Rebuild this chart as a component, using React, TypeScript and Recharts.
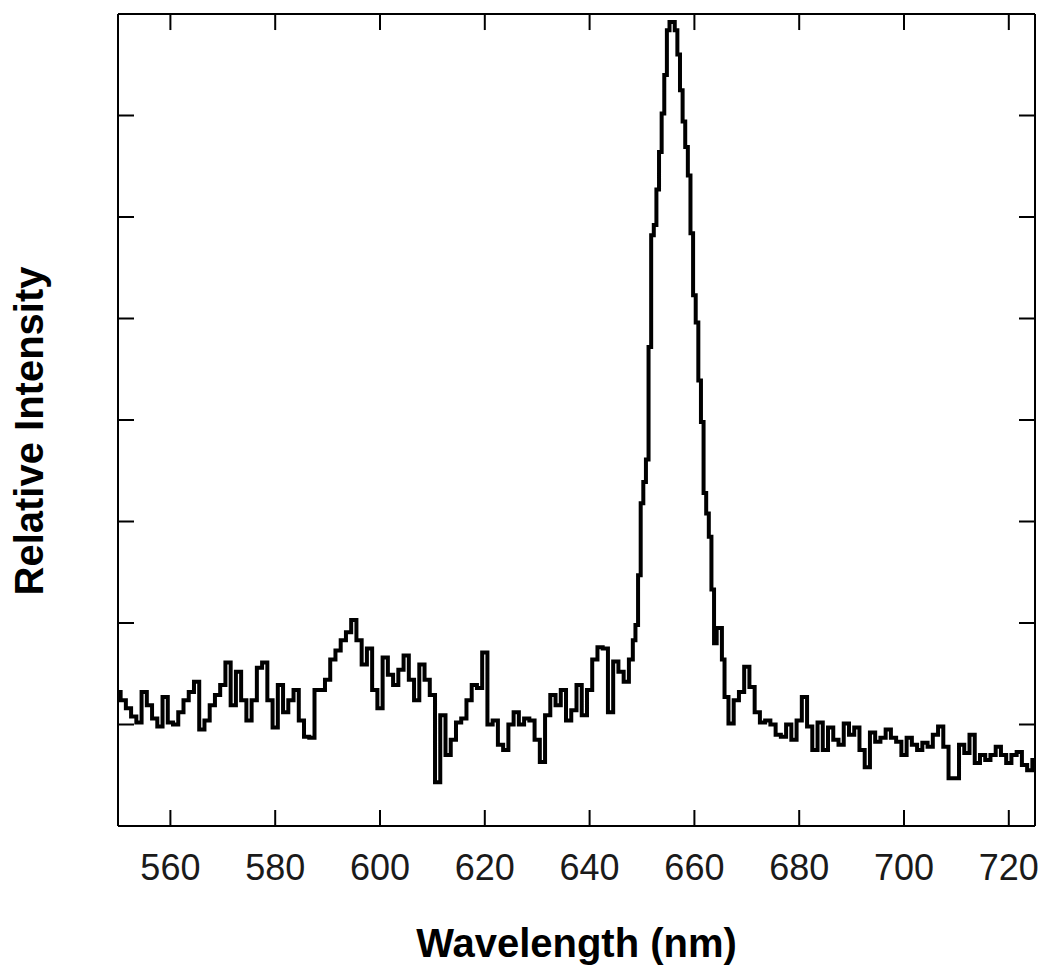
import { LineChart, Line, XAxis, YAxis, Label, ReferenceLine } from 'recharts';

// spectrum, nm (1 nm sampling in the wings, 0.5 nm across the line)
const wavelength = [
  550, 551, 552, 553, 554, 555, 556, 557, 558, 559,
  560, 561, 562, 563, 564, 565, 566, 567, 568, 569,
  570, 571, 572, 573, 574, 575, 576, 577, 578, 579,
  580, 581, 582, 583, 584, 585, 586, 587, 588, 589,
  590, 591, 592, 593, 594, 595, 596, 597, 598, 599,
  600, 601, 602, 603, 604, 605, 606, 607, 608, 609,
  610, 611, 612, 613, 614, 615, 616, 617, 618, 619,
  620, 621, 622, 623, 624, 625, 626, 627, 628, 629,
  630, 631, 632, 633, 634, 635, 636, 637, 638, 639,
  640, 641, 642, 643, 644, 645, 646, 647,
  648, 648.5, 649, 649.5, 650, 650.5, 651, 651.5, 652, 652.5,
  653, 653.5, 654, 654.5, 655, 655.5, 656, 656.5, 657, 657.5,
  658, 658.5, 659, 659.5, 660, 660.5, 661, 661.5, 662, 662.5,
  663, 663.5, 664, 664.5, 665, 665.5, 666,
  667, 668, 669, 670, 671, 672, 673, 674, 675, 676,
  677, 678, 679, 680, 681, 682, 683, 684, 685, 686,
  687, 688, 689, 690, 691, 692, 693, 694, 695, 696,
  697, 698, 699, 700, 701, 702, 703, 704, 705, 706,
  707, 708, 709, 710, 711, 712, 713, 714, 715, 716,
  717, 718, 719, 720, 721, 722, 723, 724, 725,
];

const intensity = [
  1.32, 1.24, 1.16, 1.08, 1.02, 1.32, 1.19, 1.06, 0.98, 1.27,
  1.02, 1.0, 1.12, 1.24, 1.32, 1.42, 0.95, 1.04, 1.19, 1.29,
  1.39, 1.61, 1.19, 1.52, 1.24, 1.04, 1.24, 1.56, 1.61, 1.24,
  0.97, 1.39, 1.12, 1.24, 1.34, 1.04, 0.88, 0.87, 1.34, 1.34,
  1.44, 1.64, 1.73, 1.83, 1.91, 2.03, 1.83, 1.59, 1.75, 1.34,
  1.16, 1.66, 1.49, 1.39, 1.54, 1.68, 1.44, 1.24, 1.59, 1.44,
  1.29, 0.43, 1.09, 0.7, 0.85, 1.02, 1.06, 1.24, 1.39, 1.36,
  1.71, 1.0, 1.04, 0.8, 0.75, 1.0, 1.12, 1.0, 1.06, 1.04,
  0.85, 0.63, 1.09, 1.29, 1.19, 1.34, 1.04, 1.14, 1.39, 1.09,
  1.34, 1.64, 1.76, 1.75, 1.12, 1.62, 1.52, 1.42,
  1.64, 1.83, 1.98, 2.47, 3.18, 3.39, 3.61, 4.72, 5.82, 5.92,
  6.27, 6.64, 7.02, 7.4, 7.84, 7.92, 7.92, 7.84, 7.6, 7.25,
  6.94, 6.69, 6.41, 5.84, 5.23, 4.96, 4.39, 3.98, 3.28, 3.08,
  2.85, 2.33, 1.8, 1.95, 1.95, 1.64, 1.27,
  1.01, 1.24, 1.32, 1.57, 1.37, 1.12, 1.02, 1.04, 1.0, 0.9,
  0.88, 1.0, 0.85, 1.04, 1.27, 0.98, 0.75, 1.02, 0.75, 0.97,
  0.85, 0.8, 1.01, 0.9, 0.97, 0.75, 0.58, 0.92, 0.83, 0.87,
  0.95, 0.87, 0.83, 0.7, 0.87, 0.8, 0.75, 0.82, 0.78, 0.9,
  0.98, 0.78, 0.47, 0.47, 0.8, 0.72, 0.9, 0.62, 0.7, 0.65,
  0.7, 0.78, 0.7, 0.62, 0.7, 0.73, 0.6, 0.55, 0.65,
];

const xTicks = [560, 580, 600, 620, 640, 660, 680, 700, 720];
const yTicks = [1, 2, 3, 4, 5, 6, 7];
const Y_MAX = 8;

const data = wavelength.map((wl, i) => ({ wl, intensity: intensity[i] }));

const FONT = '"Liberation Sans", Arial, Helvetica, sans-serif';
const frame = { stroke: '#000', strokeWidth: 2 };
const noLabel = () => <g />;
// inward tick length on the top edge, in intensity units (~16px)
const TOP_TICK = 0.158;

export default function App() {
  return (
    <div style={{ position: 'absolute', left: 0, top: 0, background: '#fff' }}>
      <LineChart
        width={1050}
        height={976}
        data={data}
        margin={{ top: 14, right: 14, bottom: 0, left: 0 }}
      >
        <XAxis
          xAxisId="b"
          dataKey="wl"
          type="number"
          domain={[550, 725]}
          ticks={xTicks}
          interval={0}
          allowDataOverflow
          height={150}
          axisLine={frame}
          tickLine={frame}
          tickSize={-16}
          tickMargin={44}
          tick={{ fill: '#1a1a1a', fontSize: 36, fontFamily: FONT }}
        >
          <Label
            value="Wavelength (nm)"
            position="insideBottom"
            offset={19}
            style={{ fontSize: 40, fontWeight: 700, fontFamily: FONT, fill: '#000' }}
          />
        </XAxis>
        <YAxis
          yAxisId="l"
          type="number"
          domain={[0, Y_MAX]}
          ticks={yTicks}
          interval={0}
          allowDataOverflow
          width={118}
          axisLine={frame}
          tickLine={frame}
          tickSize={-16}
          tick={noLabel}
        >
          <Label
            content={(props: any) => {
              const vb = props.viewBox;
              const cx = vb.x + 29;
              const cy = vb.y + vb.height / 2 + 11;
              return (
                <text
                  x={cx}
                  y={cy}
                  transform={`rotate(-90 ${cx} ${cy})`}
                  textAnchor="middle"
                  dominantBaseline="central"
                  style={{ fontSize: 40, fontWeight: 700, fontFamily: FONT, fill: '#000' }}
                >
                  Relative Intensity
                </text>
              );
            }}
          />
        </YAxis>
        <YAxis
          yAxisId="r"
          orientation="right"
          type="number"
          domain={[0, Y_MAX]}
          ticks={yTicks}
          interval={0}
          allowDataOverflow
          width={1}
          axisLine={frame}
          tickLine={frame}
          tickSize={-16}
          tick={noLabel}
        />
        <ReferenceLine xAxisId="b" yAxisId="l" y={Y_MAX} stroke="#000" strokeWidth={2} />
        {xTicks.map((t) => (
          <ReferenceLine
            key={t}
            xAxisId="b"
            yAxisId="l"
            segment={[
              { x: t, y: Y_MAX },
              { x: t, y: Y_MAX - TOP_TICK },
            ]}
            stroke="#000"
            strokeWidth={2}
          />
        ))}
        <Line
          xAxisId="b"
          yAxisId="l"
          dataKey="intensity"
          type="step"
          stroke="#000"
          strokeWidth={4}
          dot={false}
          isAnimationActive={false}
        />
      </LineChart>
    </div>
  );
}
